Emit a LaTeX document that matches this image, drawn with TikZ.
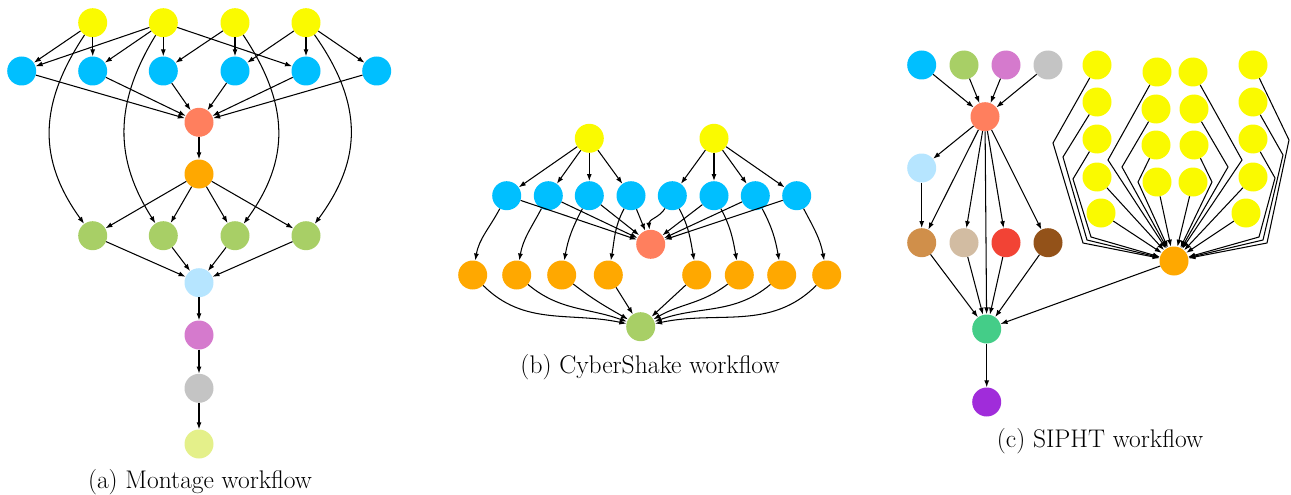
\documentclass[tikz,border=0pt]{standalone}
\usetikzlibrary{arrows.meta}
\definecolor{cY}{HTML}{FAFA00}
\definecolor{cB}{HTML}{00BFFF}
\definecolor{cS}{HTML}{FF7F5E}
\definecolor{cO}{HTML}{FFA800}
\definecolor{cG}{HTML}{A8CF66}
\definecolor{cL}{HTML}{B6E5FF}
\definecolor{cP}{HTML}{D57ACD}
\definecolor{cGr}{HTML}{C4C4C4}
\definecolor{cPY}{HTML}{E4F08A}
\definecolor{cPeru}{HTML}{D08F4A}
\definecolor{cTan}{HTML}{D2BCA2}
\definecolor{cRed}{HTML}{F24335}
\definecolor{cBrown}{HTML}{935219}
\definecolor{cSea}{HTML}{44CD88}
\definecolor{cPur}{HTML}{A02CDA}
\tikzset{
  n/.style={circle, minimum size=29pt, inner sep=0pt, fill=#1},
  e/.style={-{Latex[length=7pt,width=5pt]}, line width=1.05pt},
  captxt/.style={font=\fontsize{25.5}{30}\selectfont, inner sep=0pt}
}
\begin{document}
\begin{tikzpicture}[x=1pt,y=-1pt]
\useasboundingbox (0,0) rectangle (1291,495);
% ---------------- (a) Montage ----------------
\foreach \i/\x in {1/92.7,2/163.3,3/235,4/306} \node[n=cY] (my\i) at (\x,22.7) {};
\foreach \i/\x in {1/21.7,2/92.7,3/163.3,4/235,5/306,6/376.7} \node[n=cB] (mb\i) at (\x,71) {};
\node[n=cS] (ms) at (199,122.3) {};
\node[n=cO] (mo) at (199,174) {};
\foreach \i/\x in {1/92.7,2/163.3,3/235,4/306} \node[n=cG] (mg\i) at (\x,235.7) {};
\node[n=cL] (ml) at (199,282.7) {};
\node[n=cP] (mp) at (199,335) {};
\node[n=cGr] (mgr) at (199,388.3) {};
\node[n=cPY] (mpy) at (199,444) {};
\node[captxt] (mcap) at (200,482) {(a) Montage workflow};
\draw[e] (my1) -- (mb1);
\draw[e] (my1) -- (mb2);
\draw[e] (my2) -- (mb1);
\draw[e] (my2) -- (mb2);
\draw[e] (my2) -- (mb3);
\draw[e] (my2) -- (mb5);
\draw[e] (my3) -- (mb3);
\draw[e] (my3) -- (mb4);
\draw[e] (my4) -- (mb4);
\draw[e] (my4) -- (mb5);
\draw[e] (my4) -- (mb6);
\draw[e] (my1) .. controls (38,105) and (38,160) .. (mg1);
\draw[e] (my2) .. controls (113,105) and (115,160) .. (mg2);
\draw[e] (my3) .. controls (290,105) and (290,160) .. (mg3);
\draw[e] (my4) .. controls (364,105) and (362,160) .. (mg4);
\foreach \i in {1,...,6} \draw[e] (mb\i) -- (ms);
\draw[e] (ms) -- (mo);
\foreach \i in {1,...,4} \draw[e] (mo) -- (mg\i);
\foreach \i in {1,...,4} \draw[e] (mg\i) -- (ml);
\draw[e] (ml) -- (mp);
\draw[e] (mp) -- (mgr);
\draw[e] (mgr) -- (mpy);
% ---------------- (b) CyberShake ----------------
\node[n=cY] (cy1) at (589.3,138.3) {};
\node[n=cY] (cy2) at (714,138.3) {};
\foreach \i/\x in {1/506.7,2/548.3,3/589.3,4/631,5/672.3,6/714,7/755.3,8/796.7} \node[n=cB] (cb\i) at (\x,195.7) {};
\node[n=cS] (cs) at (650.7,244.3) {};
\foreach \i/\x in {1/472.7,2/516.7,3/561.7,4/608.3,5/696.7,6/739.3,7/781.7,8/826.7} \node[n=cO] (co\i) at (\x,275) {};
\node[n=cG] (cg) at (640.7,326.7) {};
\node[captxt] (ccap) at (650,367) {(b) CyberShake workflow};
\foreach \i in {1,...,4} \draw[e] (cy1) -- (cb\i);
\foreach \i in {5,...,8} \draw[e] (cy2) -- (cb\i);
\foreach \i in {1,2,3,4,6,7,8} \draw[e] (cb\i) -- (cs);
\draw[e] (cb5) to[out=-120,in=95] (cs);
\foreach \i in {1,...,4} \draw[e] (cb\i) to[out=-118,in=80] (co\i);
\foreach \i in {5,...,8} \draw[e] (cb\i) to[out=-62,in=100] (co\i);
\draw[e] (co1) to[out=-45,in=168] (cg);
\draw[e] (co2) to[out=-40,in=160] (cg);
\draw[e] (co3) to[out=-38,in=150] (cg);
\draw[e] (co4) -- (cg);
\draw[e] (co5) -- (cg);
\draw[e] (co6) to[out=-142,in=30] (cg);
\draw[e] (co7) to[out=-140,in=20] (cg);
\draw[e] (co8) to[out=-135,in=12] (cg);
% ---------------- (c) SIPHT ----------------
\node[n=cB] (st1) at (921.7,65) {};
\node[n=cG] (st2) at (964,65) {};
\node[n=cP] (st3) at (1006,65) {};
\node[n=cGr] (st4) at (1048,65) {};
\node[n=cS] (ss) at (985,116.7) {};
\node[n=cL] (sl) at (921.7,168) {};
\node[n=cPeru] (sb1) at (921.7,242.7) {};
\node[n=cTan] (sb2) at (964,242.7) {};
\node[n=cRed] (sb3) at (1006,242.7) {};
\node[n=cBrown] (sb4) at (1048,242.7) {};
\node[n=cSea] (sg) at (986.7,329) {};
\node[n=cPur] (sp) at (986.7,402) {};
\node[n=cO] (so) at (1174,261) {};
\node[captxt] (scap) at (1100,441) {(c) SIPHT workflow};
\foreach \i in {1,...,4} \draw[e] (st\i) -- (ss);
\draw[e] (ss) -- (sl);
\draw[e] (sl) -- (sb1);
\foreach \i in {1,...,4} \draw[e] (ss) -- (sb\i);
\draw[e] (ss) -- (sg);
\foreach \i in {1,...,4} \draw[e] (sb\i) -- (sg);
\draw[e] (so) -- (sg);
\draw[e] (sg) -- (sp);
% yellow nodes
\foreach \i/\x/\y in {1/1097/65,2/1097/102,3/1097/139,4/1097/177,5/1101/213} \node[n=cY] (ya\i) at (\x,\y) {};
\foreach \i/\x/\y in {1/1157/72,2/1156/109,3/1156/145,4/1157/182} \node[n=cY] (yb\i) at (\x,\y) {};
\foreach \i/\x/\y in {1/1193/72,2/1194/109,3/1194/145,4/1193/182} \node[n=cY] (yc\i) at (\x,\y) {};
\foreach \i/\x/\y in {1/1253/65,2/1253/102,3/1253/139,4/1253/177,5/1246/213} \node[n=cY] (yd\i) at (\x,\y) {};
% bend coordinates
\coordinate (a1a) at (1053,143); \coordinate (a1b) at (1083,243);
\coordinate (a2a) at (1063,157); \coordinate (a2b) at (1087,240);
\coordinate (a3a) at (1073,179); \coordinate (a3b) at (1091,237);
\coordinate (b1a) at (1108,160);
\coordinate (b2a) at (1122,167);
\coordinate (b3a) at (1138,182);
\coordinate (c1a) at (1242,160);
\coordinate (c2a) at (1228,167);
\coordinate (c3a) at (1212,182);
\coordinate (d1a) at (1289,140); \coordinate (d1b) at (1267,243);
\coordinate (d2a) at (1283,155); \coordinate (d2b) at (1263,240);
\coordinate (d3a) at (1275,178); \coordinate (d3b) at (1259,237);
\foreach \i in {1,2,3} {
  \draw[e] (ya\i) -- (a\i a) -- (a\i b) -- (so);
  \draw[e] (yb\i) -- (b\i a) -- (so);
  \draw[e] (yc\i) -- (c\i a) -- (so);
  \draw[e] (yd\i) -- (d\i a) -- (d\i b) -- (so);
}
\draw[e] (ya4) -- (so);
\draw[e] (ya5) -- (so);
\draw[e] (yb4) -- (so);
\draw[e] (yc4) -- (so);
\draw[e] (yd4) -- (so);
\draw[e] (yd5) -- (so);
\end{tikzpicture}
\end{document}
